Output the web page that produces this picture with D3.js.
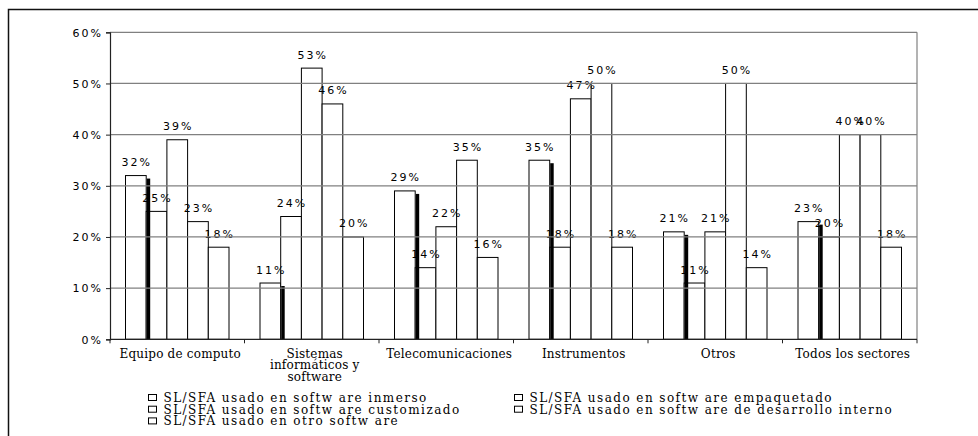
<!DOCTYPE html>
<html>
<head>
<meta charset="utf-8">
<script src="https://cdn.jsdelivr.net/npm/d3@7"></script>
<style>
    body { margin: 0; background: #fff; }
    svg { display: block; }
    .pct { font-family: "DejaVu Sans", sans-serif; font-size: 11px; letter-spacing: 2px; fill: #000; }
    .cat { font-family: "DejaVu Serif", serif; font-size: 12px; letter-spacing: 0.2px; fill: #000; }
    .leg { font-family: "DejaVu Serif", serif; font-size: 12px; letter-spacing: 1.45px; fill: #000; }
</style>
</head>
<body>
<div id="container"></div>
<script>

var categories = [
    ["Equipo de computo"],
    ["Sistemas", "informáticos y", "software"],
    ["Telecomunicaciones"],
    ["Instrumentos"],
    ["Otros"],
    ["Todos los sectores"]
];

var series = [
    "SL/SFA usado en softw are inmerso",
    "SL/SFA usado en softw are empaquetado",
    "SL/SFA usado en softw are customizado",
    "SL/SFA usado en softw are de desarrollo interno",
    "SL/SFA usado en otro softw are"
];

// one value per category, one array per series
var inmerso     = [0.32, 0.11, 0.29, 0.35, 0.21, 0.23];
var empaquetado = [0.25, 0.24, 0.14, 0.18, 0.11, 0.20];
var customizado = [0.39, 0.53, 0.22, 0.47, 0.21, 0.40];
var interno     = [0.23, 0.46, 0.35, 0.50, 0.50, 0.40];
var otro        = [0.18, 0.20, 0.16, 0.18, 0.14, 0.18];

var yTicks = [0, 0.1, 0.2, 0.3, 0.4, 0.5, 0.6];

var values = [inmerso, empaquetado, customizado, interno, otro];

var W = 978, H = 436;
var plotLeft = 110, plotRight = 917, plotTop = 32.3, plotBottom = 339.3;

var svg = d3.select("#container").append("svg")
    .attr("width", W)
    .attr("height", H);

// outer frame (runs off the picture on the right and bottom)
svg.append("path")
    .attr("d", "M8.5," + H + "V9.5H" + W)
    .attr("fill", "none")
    .attr("stroke", "#111")
    .attr("stroke-width", 1.5);

var x = d3.scaleBand()
    .domain(d3.range(categories.length))
    .range([plotLeft, plotRight]);

var xs = d3.scaleBand()
    .domain(d3.range(series.length))
    .range([15.5, x.bandwidth() - 15.5]);

var y = d3.scaleLinear()
    .domain([0, 0.6])
    .range([plotBottom, plotTop]);

var pct = d3.format(".0%");

// bars
var groups = svg.selectAll("g.cat-group")
    .data(categories)
    .enter().append("g")
    .attr("class", "cat-group")
    .attr("transform", function(d, i){ return "translate(" + x(i) + ",0)"; });

groups.each(function(c, i){
    var g = d3.select(this);
    values.forEach(function(s, j){
	g.append("rect")
	    .attr("x", xs(j))
	    .attr("y", y(s[i]))
	    .attr("width", xs.bandwidth())
	    .attr("height", plotBottom - y(s[i]))
	    .attr("fill", "#fff")
	    .attr("stroke", "#000")
	    .attr("stroke-width", 1);
    });
    // the dark shadow on the first series
    g.append("rect")
	.attr("x", xs(0) + xs.bandwidth() + 0.5)
	.attr("y", y(inmerso[i]) + 3)
	.attr("width", 3.5)
	.attr("height", plotBottom - y(inmerso[i]) - 3)
	.attr("fill", "#000");
});

// gridlines on top of the bars
svg.append("g")
    .selectAll("line")
    .data(yTicks.slice(1))
    .enter().append("line")
    .attr("x1", plotLeft)
    .attr("x2", plotRight)
    .attr("y1", function(d){ return y(d); })
    .attr("y2", function(d){ return y(d); })
    .attr("stroke", "#808080")
    .attr("stroke-width", 1.2);

// right edge of plot
svg.append("line")
    .attr("x1", plotRight).attr("x2", plotRight)
    .attr("y1", plotTop).attr("y2", plotBottom)
    .attr("stroke", "#808080")
    .attr("stroke-width", 1.2);

// y axis
var yAxis = d3.axisLeft(y)
    .tickValues(yTicks)
    .tickSize(4)
    .tickFormat(pct);

var ya = svg.append("g")
    .attr("transform", "translate(" + plotLeft + ",0)")
    .call(yAxis);
ya.attr("font-family", null).attr("font-size", null);
ya.select(".domain").attr("stroke", "#222").attr("stroke-width", 1.2);
ya.selectAll(".tick line").attr("stroke", "#222");
ya.selectAll(".tick text")
    .attr("class", "pct")
    .attr("x", -7)
    .attr("dy", "0.35em");

// x axis
var xa = svg.append("g")
    .attr("transform", "translate(0," + plotBottom + ")");
xa.append("line")
    .attr("x1", plotLeft).attr("x2", plotRight)
    .attr("stroke", "#222").attr("stroke-width", 1.2);
xa.selectAll("line.tk")
    .data(d3.range(categories.length + 1))
    .enter().append("line")
    .attr("class", "tk")
    .attr("x1", function(d){ return plotLeft + d * x.step(); })
    .attr("x2", function(d){ return plotLeft + d * x.step(); })
    .attr("y1", 0).attr("y2", 4)
    .attr("stroke", "#222");

groups.append("text")
    .attr("class", "cat")
    .attr("text-anchor", "middle")
    .attr("y", 357.5)
    .each(function(c){
	var t = d3.select(this);
	c.forEach(function(line, k){
	    t.append("tspan")
		.attr("x", x.bandwidth() / 2 + 3)
		.attr("dy", k == 0 ? 0 : 11.8)
		.text(line);
	});
    });

// value labels
groups.each(function(c, i){
    var g = d3.select(this);
    values.forEach(function(s, j){
	g.append("text")
	    .attr("class", "pct")
	    .attr("text-anchor", "middle")
	    .attr("x", xs(j) + xs.bandwidth() / 2 + 1)
	    .attr("y", y(s[i]) - 9.5)
	    .text(pct(s[i]));
    });
});

// legend
var legend = svg.append("g")
    .selectAll("g")
    .data(series)
    .enter().append("g")
    .attr("transform", function(d, i){
	return "translate(" + (i % 2 == 0 ? 148.5 : 514.5) + "," + (402 + Math.floor(i / 2) * 11.7) + ")";
    });

legend.append("rect")
    .attr("x", 0)
    .attr("y", -7.5)
    .attr("width", 8)
    .attr("height", 6)
    .attr("fill", "#fff")
    .attr("stroke", "#000");

legend.append("text")
    .attr("class", "leg")
    .attr("x", 15)
    .text(function(d){ return d; });

</script>
</body>
</html>
